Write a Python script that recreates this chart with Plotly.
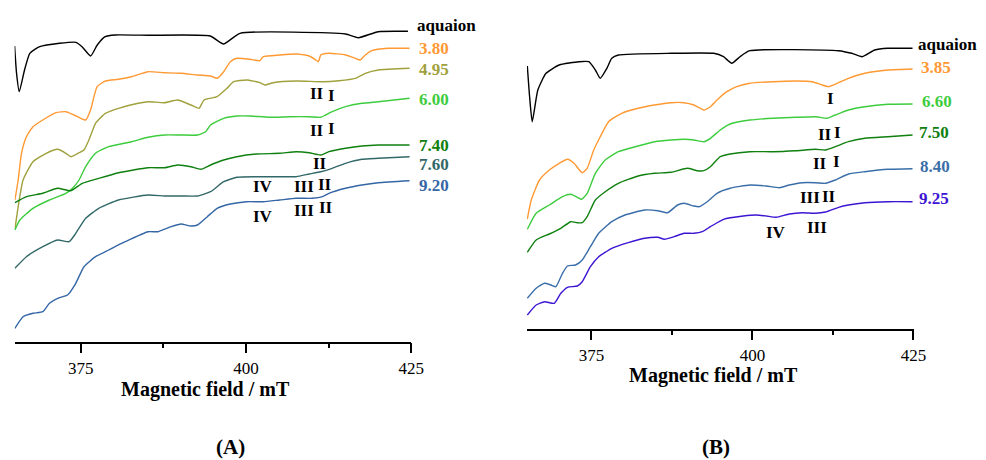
import plotly.graph_objects as go

# ---------------- Panel A data (x: magnetic field / mT, y: intensity, arb. units incl. offset) -------------
A_aq_x = [365.0, 365.3, 365.7, 366.5, 367.3, 368.8, 371.8, 374.3, 375.2, 376.5, 377.5, 378.7, 380.2, 385.2,
          394.6, 396.6, 399.1, 415.05, 417.0, 420.0, 424.5]
A_aq_y = [295.7, 268.0, 250.0, 271.7, 288.4, 295.0, 298.4, 299.4, 295.0, 285.7, 296.7, 305.0, 306.7, 306.4,
          305.7, 297.7, 308.4, 307.7, 304.0, 310.0, 310.4]

A_380_x = [365.04, 365.54, 366.04, 366.79, 367.78, 369.27, 371.27, 372.76, 374.0, 375.0, 375.75, 376.49, 377.48,
           378.73, 380.72, 382.70, 385.19, 387.68, 390.17, 392.66, 394.64, 395.63, 396.63, 397.63, 398.62, 400.61,
           402.10, 402.61, 405.10, 407.59, 409.56, 410.56, 410.96, 411.31, 412.55, 415.05, 416.54, 417.29, 418.05,
           419.02, 421.51, 424.74]
A_380_y = [141.7, 161.7, 188.4, 205.0, 215.0, 221.7, 229.0, 230.0, 226.7, 223.4, 221.7, 231.7, 255.0,
           260.7, 262.4, 265.0, 270.0, 269.0, 268.4, 266.7, 265.7, 263.4, 270.0, 280.0, 283.4, 282.4,
           281.0, 285.0, 286.7, 287.7, 285.7, 281.7, 280.0, 286.7, 288.4, 286.7, 283.4, 281.7, 286.7,
           291.0, 293.4, 293.4]

A_495_x = [365.04, 365.54, 366.28, 367.78, 369.78, 371.51, 372.76, 373.51, 374.75, 375.49, 376.24, 377.24, 378.73,
           380.72, 383.70, 385.19, 387.68, 389.67, 391.66, 392.91, 393.65, 395.63, 397.13, 398.13, 400.12, 402.10,
           402.86, 404.10, 407.59, 411.56, 414.05, 416.54, 418.05, 420.02, 424.74]
A_495_y = [112.0, 135.0, 161.7, 180.0, 188.4, 192.4, 188.4, 185.0, 189.0, 191.7, 201.7, 218.4, 228.4,
           233.4, 238.4, 240.0, 239.0, 241.7, 236.7, 233.4, 241.7, 245.0, 253.4, 260.0, 261.7, 259.0,
           256.7, 259.0, 260.7, 260.0, 261.0, 263.4, 268.4, 271.7, 273.4]

A_600_x = [365.04, 365.79, 367.78, 370.27, 372.76, 373.75, 374.75, 375.75, 377.24, 379.22, 382.70, 385.19,
           387.68, 390.17, 392.66, 393.90, 394.64, 396.63, 398.62, 400.61, 403.60, 406.59, 409.56, 411.31,
           412.05, 413.05, 415.05, 417.53, 420.02, 424.74]
A_600_y = [111.7, 121.7, 133.4, 141.7, 148.4, 153.4, 161.7, 175.0, 188.4, 195.0, 200.0, 204.4,
           206.7, 206.7, 206.7, 210.0, 216.7, 223.4, 225.7, 225.7, 224.4, 225.0, 225.0, 224.4,
           226.7, 230.0, 235.0, 238.4, 240.0, 243.4]

A_740_x = [365.04, 366.79, 369.27, 371.51, 373.51, 375.24, 377.73, 380.72, 385.19, 387.68, 389.67, 391.66,
           393.18, 394.64, 396.63, 398.62, 401.61, 405.10, 407.59, 409.56, 411.31, 412.55, 415.05, 417.53,
           420.02, 424.74]
A_740_y = [139.0, 145.0, 148.4, 153.4, 151.0, 158.4, 163.4, 169.0, 174.0, 174.0, 176.7, 175.0,
           172.4, 176.7, 181.7, 185.0, 187.7, 188.4, 190.0, 189.0, 186.7, 190.0, 193.4, 195.7,
           196.7, 196.7]

A_760_x = [365.04, 366.79, 369.27, 371.51, 373.25, 374.25, 375.75, 377.73, 380.72, 385.19, 387.68, 390.17,
           392.66, 394.64, 396.63, 398.62, 401.61, 405.10, 407.59, 409.56, 411.31, 413.05, 415.05, 417.53,
           420.02, 424.74]
A_760_y = [73.4, 85.0, 95.0, 101.7, 100.0, 108.4, 123.4, 133.4, 141.7, 146.7, 145.7, 145.7,
           145.7, 150.0, 160.0, 164.4, 165.0, 165.0, 165.0, 167.7, 170.0, 173.4, 178.4, 182.4,
           183.4, 185.0]

A_920_x = [365.04, 366.28, 367.78, 369.27, 370.27, 371.51, 373.0, 374.25, 375.49, 377.24, 379.22, 381.72,
           385.19, 386.69, 388.68, 390.17, 391.66, 392.66, 394.15, 395.63, 397.63, 400.12, 402.61, 405.10,
           407.59, 410.07, 411.56, 412.55, 415.05, 417.53, 420.02, 424.74]
A_920_y = [13.4, 25.0, 28.4, 30.0, 38.4, 43.4, 46.7, 58.4, 75.0, 85.0, 91.7, 100.0,
           110.0, 110.0, 115.0, 117.7, 115.7, 116.7, 125.0, 133.4, 137.7, 140.0, 140.0, 141.7,
           143.4, 143.4, 145.0, 148.4, 153.4, 156.7, 159.0, 161.0]

# ---------------- Panel B data -------------
B_aq_x = [365.05, 365.4, 365.81, 366.68, 367.95, 370.0, 373.07, 374.60, 375.61, 376.37, 377.40, 378.16, 379.19,
          387.35, 394.0, 395.51, 396.79, 398.06, 399.59, 413.37, 415.40, 417.04, 418.98, 421.02, 424.85]
B_aq_y = [262.5, 232.0, 206.8, 238.5, 255.2, 263.5, 266.8, 266.8, 258.5, 250.2, 260.2, 270.2, 273.5,
          275.2, 275.2, 271.8, 265.2, 271.8, 277.8, 277.8, 275.2, 271.8, 278.5, 280.2, 280.2]

B_385_x = [365.05, 365.66, 366.94, 368.47, 370.0, 371.28, 372.30, 373.57, 374.34, 375.36, 376.37, 377.66, 379.69,
           382.25, 384.79, 387.35, 389.38, 390.91, 392.44, 393.47, 394.50, 396.03, 397.56, 399.59, 403.16,
           406.74, 409.28, 410.81, 411.84, 413.37, 414.90, 417.45, 421.02, 424.85]
B_385_y = [109.5, 128.5, 148.5, 158.5, 165.2, 169.2, 165.2, 155.8, 160.2, 178.5, 191.8, 206.8, 215.2,
           220.2, 223.5, 225.8, 225.8, 223.5, 218.5, 221.8, 228.5, 236.8, 241.8, 245.2, 246.8,
           247.5, 246.8, 243.5, 241.8, 245.8, 250.2, 255.2, 258.5, 259.5]

B_660_x = [365.05, 366.42, 368.47, 370.51, 371.78, 372.81, 373.47, 374.34, 375.61, 377.14, 379.19, 382.25,
           384.79, 387.35, 389.38, 390.91, 392.44, 393.47, 395.00, 396.53, 399.59, 403.16, 406.74, 409.80,
           411.58, 412.86, 414.90, 417.45, 421.02, 424.85]
B_660_y = [99.2, 115.2, 123.5, 131.8, 134.2, 131.2, 129.2, 135.2, 155.2, 168.5, 176.8, 182.5,
           186.8, 188.5, 189.2, 188.5, 186.8, 190.2, 198.5, 204.5, 208.5, 210.2, 211.2, 211.8,
           210.2, 213.5, 218.5, 221.8, 224.2, 224.5]

B_750_x = [365.05, 366.42, 368.47, 370.25, 371.78, 372.81, 373.57, 374.34, 375.61, 377.14, 379.19, 382.25,
           384.79, 387.35, 389.90, 391.43, 392.44, 393.47, 395.00, 396.53, 399.59, 403.16, 406.74, 409.80,
           411.33, 412.86, 414.90, 417.45, 421.02, 424.85]
B_750_y = [76.2, 88.5, 94.5, 100.2, 106.8, 105.8, 105.8, 111.8, 128.5, 136.8, 145.2, 152.5,
           155.2, 156.2, 160.2, 157.8, 157.8, 161.8, 171.8, 174.5, 176.8, 176.8, 177.8, 179.2,
           178.5, 181.8, 186.8, 190.2, 191.8, 193.5]

B_840_x = [365.05, 366.42, 367.71, 368.72, 369.48, 370.51, 371.28, 372.55, 373.57, 374.84, 376.13, 378.16,
           380.20, 383.26, 385.31, 386.84, 388.37, 389.38, 390.91, 391.68, 392.97, 394.50, 396.53, 399.59,
           402.15, 404.19, 405.72, 407.75, 409.80, 411.33, 412.86, 414.90, 417.45, 421.02, 424.85]
B_840_y = [30.2, 40.2, 45.2, 43.5, 41.8, 55.2, 62.5, 63.5, 68.5, 81.8, 95.2, 106.8,
           113.5, 118.5, 117.8, 115.8, 123.5, 125.2, 122.5, 121.8, 126.8, 135.2, 140.2, 143.5,
           142.5, 140.8, 143.5, 145.8, 145.8, 145.2, 148.5, 154.5, 156.8, 159.2, 159.8]

B_925_x = [365.05, 366.42, 367.71, 369.24, 370.25, 371.28, 372.81, 373.57, 374.84, 376.13, 378.16, 380.72,
           383.26, 385.31, 386.32, 387.85, 389.38, 390.91, 392.20, 393.47, 395.51, 398.57, 400.62, 402.15,
           403.68, 405.72, 407.75, 409.80, 411.33, 413.37, 414.90, 417.45, 421.02, 424.85]
B_925_y = [13.5, 23.5, 26.8, 25.2, 35.2, 41.2, 42.5, 46.8, 61.8, 71.8, 80.2, 85.8,
           90.2, 91.2, 89.2, 91.8, 95.2, 95.2, 96.8, 101.8, 109.2, 112.5, 113.5, 112.5,
           111.2, 114.5, 115.8, 115.2, 116.5, 121.2, 123.5, 125.8, 126.8, 126.8]

# tick labels
tick_vals = [375, 400, 425]
tick_text = ["375", "400", "425"]
minor_vals = [387.5, 412.5]

SERIF = "Liberation Serif, Times New Roman, serif"
C_AQ = "#000000"
C_OR = "#FF9933"
C_OL = "#A0A03C"
C_LG = "#3DCC3D"
C_DG = "#0F800F"
C_TL = "#336868"
C_BL = "#3466A6"
C_SB = "#3A6EA8"
C_PU = "#3D14D2"

series_A = [
    ("aquaion", A_aq_x, A_aq_y, C_AQ),
    ("3.80", A_380_x, A_380_y, C_OR),
    ("4.95", A_495_x, A_495_y, C_OL),
    ("6.00", A_600_x, A_600_y, C_LG),
    ("7.40", A_740_x, A_740_y, C_DG),
    ("7.60", A_760_x, A_760_y, C_TL),
    ("9.20", A_920_x, A_920_y, C_BL),
]
series_B = [
    ("aquaion", B_aq_x, B_aq_y, C_AQ),
    ("3.85", B_385_x, B_385_y, C_OR),
    ("6.60", B_660_x, B_660_y, C_LG),
    ("7.50", B_750_x, B_750_y, C_DG),
    ("8.40", B_840_x, B_840_y, C_SB),
    ("9.25", B_925_x, B_925_y, C_PU),
]

fig = go.Figure()
for name, xs, ys, col in series_A:
    fig.add_trace(go.Scatter(x=xs, y=ys, mode="lines", name=name, xaxis="x", yaxis="y",
                             line=dict(color=col, width=1.4, shape="spline", smoothing=0.5),
                             showlegend=False, hoverinfo="skip"))
for name, xs, ys, col in series_B:
    fig.add_trace(go.Scatter(x=xs, y=ys, mode="lines", name=name, xaxis="x2", yaxis="y2",
                             line=dict(color=col, width=1.4, shape="spline", smoothing=0.5),
                             showlegend=False, hoverinfo="skip"))

# the page body has an 8px default margin, so the figure is drawn 8px smaller and
# every pixel position below is measured in the full 986x460 window
OFF = 8
W, H = 986 - OFF, 460 - OFF


def px(xp):
    return (xp - OFF) / W


def py(yp):
    return 1 - (yp - OFF) / H


xcommon = dict(range=[365, 425], showline=True, linecolor="black", linewidth=1.5,
               ticks="outside", ticklen=10, tickwidth=1.5, tickcolor="black",
               tickmode="array", tickvals=tick_vals, ticktext=tick_text,
               minor=dict(tickmode="array", tickvals=minor_vals, ticks="outside", ticklen=5,
                          tickwidth=1.5, tickcolor="black", showgrid=False),
               showgrid=False, zeroline=False,
               tickfont=dict(family=SERIF, size=17, color="black"))

annotations = []
# right-hand labels
labels_A = [("aquaion", 420.7, 25, C_AQ), ("3.80", 422.7, 48.3, C_OR), ("4.95", 422.7, 69.3, C_OL),
            ("6.00", 422.7, 99, C_LG), ("7.40", 422.7, 145.7, C_DG), ("7.60", 422.7, 165, C_TL),
            ("9.20", 422.7, 185.7, C_BL)]
labels_B = [("aquaion", 928.3, 44, C_AQ), ("3.85", 931, 67.3, C_OR), ("6.60", 932.7, 101.7, C_LG),
            ("7.50", 929.3, 132.7, C_DG), ("8.40", 930.7, 166, C_SB), ("9.25", 929.3, 198.3, C_PU)]
for t, xp, yp, c in labels_A + labels_B:
    annotations.append(dict(text=t, x=px(xp), y=py(yp), xref="paper", yref="paper",
                            xanchor="left", yanchor="middle", showarrow=False,
                            font=dict(family=SERIF, size=17, color=c, weight="bold")))

romans_A = [("II", 410.67, 248.4), ("I", 412.96, 246.7), ("II", 410.67, 211), ("I", 412.96, 213.4),
            ("II", 411.16, 178.4), ("IV", 402.51, 155), ("III", 408.82, 155.7), ("II", 411.96, 157.7),
            ("IV", 402.51, 125.7), ("III", 408.82, 131.7), ("II", 412.06, 134)]
romans_B = [("I", 412.19, 230.2), ("II", 411.33, 194.5), ("I", 413.21, 195.8), ("II", 410.41, 165.2),
            ("I", 412.98, 166.8), ("III", 408.92, 131.2), ("II", 411.93, 131.8), ("IV", 403.68, 96.2),
            ("III", 409.95, 100.8)]
for t, xv, yv in romans_A:
    annotations.append(dict(text=t, x=xv, y=yv, xref="x", yref="y", showarrow=False,
                            xanchor="center", yanchor="middle",
                            font=dict(family=SERIF, size=17, color="black", weight="bold")))
for t, xv, yv in romans_B:
    annotations.append(dict(text=t, x=xv, y=yv, xref="x2", yref="y2", showarrow=False,
                            xanchor="center", yanchor="middle",
                            font=dict(family=SERIF, size=17, color="black", weight="bold")))

# axis titles and panel letters
for t, xp, yp, s in [("Magnetic field / mT", 208, 389, 20), ("Magnetic field / mT", 723.3, 375, 20),
                     ("(A)", 233, 447, 21), ("(B)", 726, 447, 21)]:
    annotations.append(dict(text=t, x=px(xp), y=py(yp), xref="paper", yref="paper",
                            xanchor="center", yanchor="middle", showarrow=False,
                            font=dict(family=SERIF, size=s, color="black", weight="bold")))

fig.update_layout(
    width=W, height=H, autosize=False,
    margin=dict(l=0, r=0, t=0, b=0),
    paper_bgcolor="white", plot_bgcolor="white",
    font=dict(family=SERIF, color="black"),
    xaxis=dict(domain=[px(14.7), px(416.7)], anchor="y", **xcommon),
    yaxis=dict(domain=[py(341.7), 1.0], range=[0, 341.7 - OFF], visible=False, fixedrange=True),
    xaxis2=dict(domain=[px(534), px(925.7)], anchor="y2", **xcommon),
    yaxis2=dict(domain=[py(328.5), 1.0], range=[0, 328.5 - OFF], visible=False, fixedrange=True),
    annotations=annotations,
    showlegend=False,
)

fig.write_html("out.html")
